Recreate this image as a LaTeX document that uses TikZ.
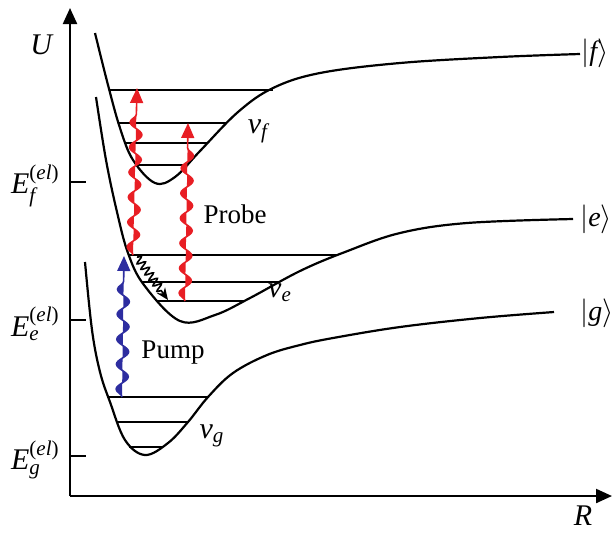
\documentclass[tikz,border=0pt]{standalone}
\usepackage{amsmath}
\usepackage{fontspec}
\setmainfont{Liberation Serif}
\usetikzlibrary{decorations.pathmorphing,arrows.meta}
\definecolor{pumpblue}{RGB}{45,45,160}
\definecolor{probered}{RGB}{232,30,36}
\begin{document}
\begin{tikzpicture}[x=0.5pt,y=-0.5pt,
  curve/.style={line width=1.1pt,line join=round},
  level/.style={line width=0.8pt},
  axis/.style={line width=1.1pt,-{Triangle[length=8pt,width=7pt]}},
  photon/.style={line width=0.8pt,decorate,
    decoration={snake,amplitude=3pt,segment length=12.5pt,post length=7pt}},
  photonhead/.style={-{Triangle[length=7.5pt,width=6.5pt]}},
  relax/.style={line width=0.8pt,decorate,
    decoration={snake,amplitude=2pt,segment length=3.4pt,post length=5pt}},
  lbl/.style={font=\fontsize{13.5}{16}\selectfont,inner sep=0pt},
  big/.style={font=\fontsize{15}{18}\selectfont,inner sep=0pt},
  ket/.style={font=\fontsize{14}{17}\selectfont,inner sep=0pt,anchor=west}
]
\useasboundingbox (0,0) rectangle (614,532);
% axes
\coordinate (O) at (70,496);
\coordinate (Ytop) at (70,8);
\coordinate (Xend) at (612,496);
\draw[axis] (O) -- (Ytop);
\draw[axis] (O) -- (Xend);
\node[big] (U) at (42,45) {\textit{U}};
\node[big] (R) at (583,516) {\textit{R}};
% ticks
\foreach \n/\y in {tf/182,te/320,tg/456}{
  \coordinate (\n a) at (70,\y); \coordinate (\n b) at (86,\y);
  \draw[line width=0.8pt] (\n a) -- (\n b);}
\node[big,anchor=east] (Ef) at (60,186) {$\textit{E}^{\textrm{(}\textit{el}\textrm{)}}_{\textit{f}}$};
\node[big,anchor=east] (Ee) at (60,324) {$\textit{E}^{\textrm{(}\textit{el}\textrm{)}}_{\textit{e}}$};
\node[big,anchor=east] (Eg) at (60,460) {$\textit{E}^{\textrm{(}\textit{el}\textrm{)}}_{\textit{g}}$};
% potential curves
\draw[curve] plot[smooth,tension=0.6] coordinates {(95,33) (108,85) (120,128) (133,160) (155,183) (175,177) (200,151) (238,112) (273,88) (320,73) (400,63) (500,57) (580,54)};
\draw[curve] plot[smooth,tension=0.6] coordinates {(96,97) (106,160) (117,212) (128,253) (144,285) (180,321) (215,315) (250,298) (300,271) (345,252) (400,233) (467,223) (573,219)};
\draw[curve] plot[smooth,tension=0.6] coordinates {(85,262) (92,330) (100,372) (110,402) (125,440) (145,455) (168,443) (188,422) (208,397) (233,373) (267,355) (300,345) (333,338) (400,327) (480,318) (554,312)};
% state labels
\node[ket] (kf) at (581,53) {$|\textit{f}\rangle$};
\node[ket] (ke) at (580,219) {$|\textit{e}\rangle$};
\node[ket] (kg) at (580,313) {$|\textit{g}\rangle$};
\node[big] (vf) at (258,131) {\textit{v}$_{\textit{f}}$};
\node[big] (ve) at (280,293) {\textit{v}$_{\textit{e}}$};
\node[big] (vg) at (212,436) {\textit{v}$_{\textit{g}}$};
% vibrational levels
\foreach \n/\y/\a/\b in {f1/90/109/273,f2/123/119/227,f3/143/126/207,f4/165/136/188,
                        e1/255/128/338,e2/282/142/278,e3/301/156/245,
                        g1/397/108/208,g2/422/117/188,g3/447/129/163}{
  \coordinate (\n l) at (\a,\y); \coordinate (\n r) at (\b,\y);
  \draw[level] (\n l) -- (\n r);}
% photons
\coordinate (pumpA) at (122,397);
\coordinate (pumpB) at (124,256);
\draw[photon,photonhead,draw=pumpblue,fill=pumpblue] (pumpA) -- (pumpB);
\coordinate (pr1A) at (133,255);
\coordinate (pr1B) at (137,88);
\draw[photon,photonhead,draw=probered,fill=probered] (pr1A) -- (pr1B);
\coordinate (pr2A) at (185,301);
\coordinate (pr2B) at (188,123);
\draw[photon,photonhead,draw=probered,fill=probered] (pr2A) -- (pr2B);
\coordinate (relA) at (137,257);
\coordinate (relB) at (168,300);
\draw[relax,-{Stealth[length=6pt,width=5pt]}] (relA) -- (relB);
\node[lbl] (probe) at (235,214) {Probe};
\node[lbl] (pump) at (173,353) {Pump};
\end{tikzpicture}
\end{document}
